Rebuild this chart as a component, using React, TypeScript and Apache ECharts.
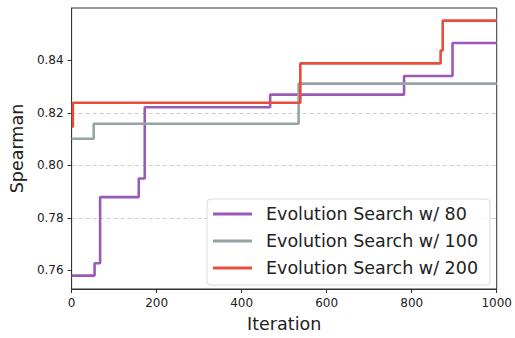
import React, { useEffect, useRef } from "react";
import * as echarts from "echarts";

const iter80 = [0, 54, 67, 158, 172, 467, 782, 896, 1000];
const val80 = [0.758, 0.7627, 0.7879, 0.795, 0.8221, 0.8269, 0.834, 0.8466, 0.8466];
const iter100 = [0, 52, 534, 1000];
const val100 = [0.8101, 0.8158, 0.8311, 0.8311];
const iter200 = [0, 3, 538, 868, 873, 1000];
const val200 = [0.8147, 0.8238, 0.8388, 0.8437, 0.8551, 0.8551];
const seriesNames = ["Evolution Search w/ 80", "Evolution Search w/ 100", "Evolution Search w/ 200"];
const yTicks = [0.76, 0.78, 0.8, 0.82, 0.84];

const FONT = "DejaVu Sans";

export default function App() {
  const ref = useRef<HTMLDivElement>(null);
  useEffect(() => {
    if (!ref.current) return;
    const chart = echarts.init(ref.current, undefined, { renderer: "svg" });
    const zip = (xs: number[], ys: number[]) => xs.map((x, i) => [x, ys[i]]);
    const colors = ["#9b59b6", "#95a5a6", "#e74c3c"];
    const datas = [zip(iter80, val80), zip(iter100, val100), zip(iter200, val200)];
    chart.setOption({
      animation: false,
      textStyle: { fontFamily: FONT },
      grid: {
        left: 68,
        right: 16.5,
        top: 8,
        bottom: 45,
        show: true,
        borderColor: "#333",
        borderWidth: 1,
        backgroundColor: "transparent",
      },
      legend: {
        orient: "vertical",
        left: 207,
        top: 199,
        width: 283,
        padding: [6, 12, 8, 6],
        itemGap: 9,
        itemWidth: 39,
        itemHeight: 3,
        icon: "rect",
        borderColor: "#dcdcdc",
        borderWidth: 1,
        borderRadius: 4,
        backgroundColor: "rgba(255,255,255,0.85)",
        textStyle: { fontFamily: FONT, fontSize: 17.5, color: "#222", padding: [0, 0, 0, 9] },
        data: seriesNames,
      },
      xAxis: {
        type: "value",
        min: 0,
        max: 1000,
        interval: 200,
        name: "Iteration",
        nameLocation: "middle",
        nameGap: 26,
        nameTextStyle: { fontFamily: FONT, fontSize: 17.5, color: "#222" },
        axisLine: { lineStyle: { color: "#333", width: 1 } },
        axisTick: { show: true, length: 4, lineStyle: { color: "#333" } },
        axisLabel: {
          fontFamily: FONT,
          fontSize: 12,
          color: "#222",
          margin: 8,
          formatter: (v: number) => String(v),
        },
        splitLine: { show: false },
      },
      yAxis: {
        type: "value",
        min: 0.7529,
        max: 0.8599,
        name: "Spearman",
        nameLocation: "middle",
        nameGap: 42,
        nameTextStyle: { fontFamily: FONT, fontSize: 17.5, color: "#222" },
        axisLine: { show: true, lineStyle: { color: "#333", width: 1 } },
        axisTick: { show: true, length: 4, lineStyle: { color: "#333" }, customValues: yTicks },
        axisLabel: {
          fontFamily: FONT,
          fontSize: 12,
          color: "#222",
          margin: 8,
          customValues: yTicks,
          formatter: (v: number) => v.toFixed(2),
        },
        splitLine: {
          show: true,
          showMinLine: false,
          showMaxLine: false,
          lineStyle: { color: "#cccccc", type: [4, 3], width: 1 },
        },
      },
      series: seriesNames.map((name, i) => ({
        name,
        type: "line",
        step: "end",
        data: datas[i],
        symbol: "none",
        showSymbol: false,
        color: colors[i],
        lineStyle: { color: colors[i], width: 2.6 },
        z: 2 + i,
      })),
    });
    return () => chart.dispose();
  }, []);
  return <div ref={ref} style={{ width: 515, height: 338, position: "absolute", left: 0, top: 0 }} />;
}
